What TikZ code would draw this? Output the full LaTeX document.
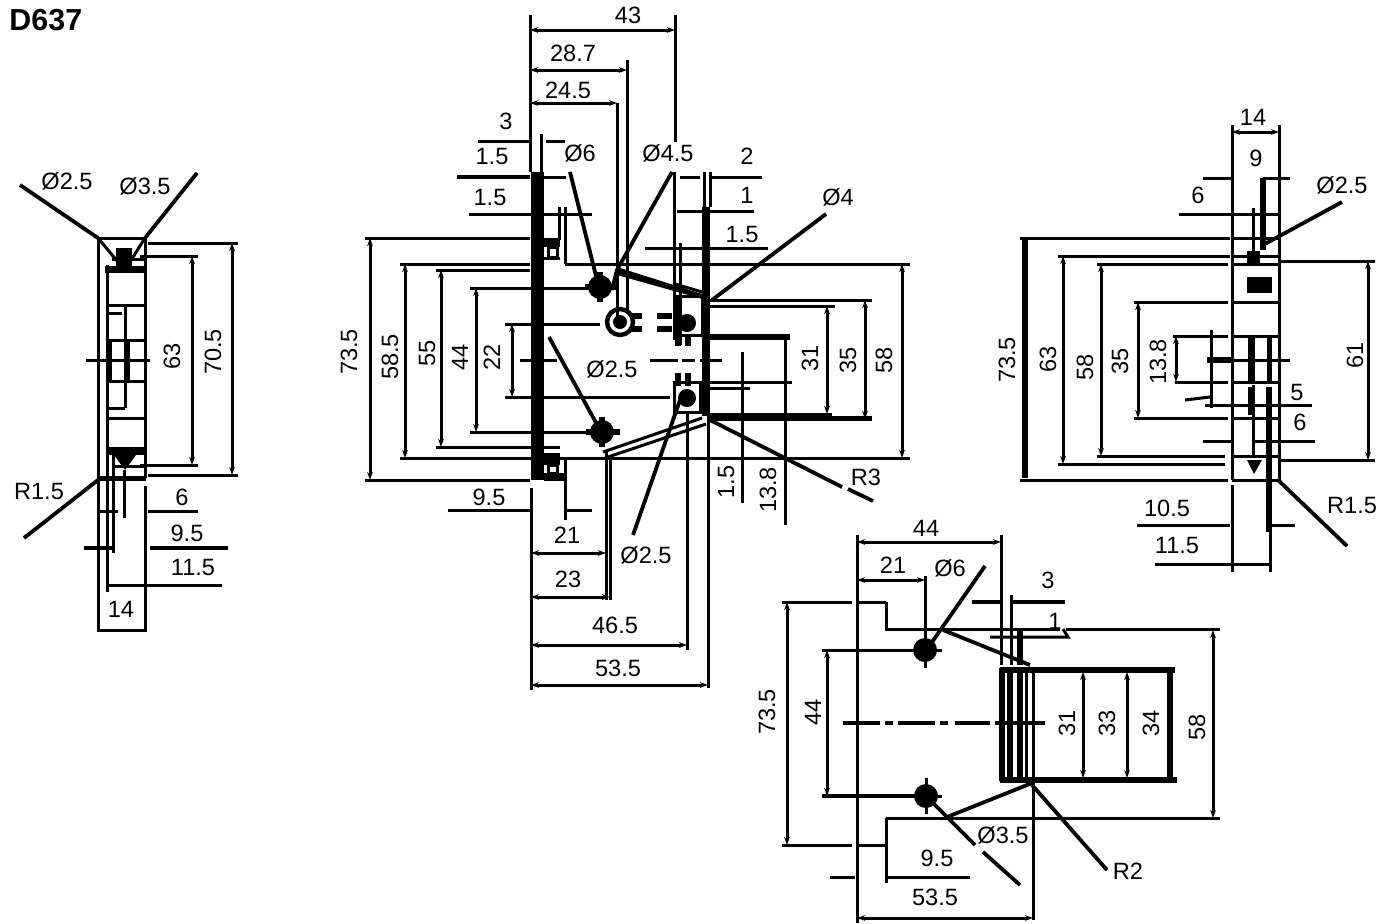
\documentclass[tikz,border=0pt]{standalone}
\usepackage{fontspec}
\setmainfont{Liberation Sans}
\usetikzlibrary{arrows.meta}
\tikzset{
    dim-text/.style={font=\fontsize{11.8}{13}\selectfont, inner sep=0pt},
    dim-rot/.style={dim-text, rotate=90},
    part-line/.style={line width=1.5pt},
    dim-line/.style={line width=1.5pt, {Stealth[length=4pt,width=2.8pt]}-{Stealth[length=4pt,width=2.8pt]}},
    heavy-line/.style={line width=2.8pt},
    leader-line/.style={line width=1.9pt},
    bar-fill/.style={fill=black, draw=none},
}

\begin{document}
\begin{tikzpicture}[x=0.5pt, y=-0.5pt, part-line]
        \useasboundingbox (0,0) rectangle (1380,923);

        % TITLE
        \node[font=\bfseries\fontsize{15.2}{17}\selectfont, anchor=west, inner sep=0pt] (TITLE) at (8,20) {D637};

        % LEFT VIEW, BODY
        \draw (98,238) -- (98,632);
        \draw (145,238) -- (145,478);
        \draw (145,486) -- (145,632);
        \draw (107,265) -- (107,592);
        \draw (98,238) -- (145,238);
        \draw (125,305) -- (125,408);
        \draw (107,305) -- (145,305);
        \draw (107,313) -- (122,313);
        \draw (107,340) -- (145,340);
        \draw (107,381) -- (145,381);
        \draw (107,408) -- (125,408);
        \draw (107,418) -- (145,418);
        \draw (86,360) -- (150,360);
        \draw (113,455) -- (113,553);
        \draw (124,470) -- (124,518);
        \draw (98,238) -- (118,262);
        \draw (145,238) -- (130,262);
        \draw[bar-fill] (105,266) rectangle (145,273);
        \draw[bar-fill] (116,248) rectangle (132,266);
        \draw (112,259) -- (145,259);
        \draw[bar-fill] (107,447) rectangle (145,455);
        \draw[bar-fill] (114,455) -- (136,455) -- (125,470) -- cycle;
        \draw (114,466) -- (145,466);
        \draw[bar-fill] (98,476) rectangle (146,481);
        \draw[bar-fill] (109,340) rectangle (112,381);
        \draw[bar-fill] (124,340) rectangle (130,381);

        % LEFT VIEW, DIMENSIONS
        \draw (148,243) -- (238,243);
        \draw (148,475) -- (238,475);
        \draw (140,256) -- (198,256);
        \draw (140,465) -- (198,465);
        \draw[dim-line] (192,256) -- (192,465);
        \draw[dim-line] (232,243) -- (232,475);
        \draw (98,511) -- (118,511);
        \draw (148,511) -- (198,511);
        \draw[line width=2pt] (84,548) -- (113,548);
        \draw[line width=1.8pt] (150,548) -- (228,548);
        \draw (107,585) -- (222,585);
        \draw (98,630) -- (145,630);
        \draw[leader-line] (20,185) -- (98,238);
        \draw[leader-line] (197,173) -- (145,238);
        \draw[leader-line] (98,480) -- (24,538);
        \node[dim-text] (LEFTD1) at (67,181)  {Ø2.5};
        \node[dim-text] (LEFTD2) at (145,186) {Ø3.5};
        \node[dim-rot]  (LEFT63) at (172,356) {63};
        \node[dim-rot]  (LEFT70) at (213,352) {70.5};
        \node[dim-text] (LEFTR)  at (39,491)  {R1.5};
        \node[dim-text] (LEFT6)  at (182,497) {6};
        \node[dim-text] (LEFT9)  at (187,533) {9.5};
        \node[dim-text] (LEFT11) at (193,567) {11.5};
        \node[dim-text] (LEFT14) at (121,609) {14};

        % FRONT VIEW, BODY
        \draw[bar-fill] (531,172) rectangle (544,480);
        \draw[bar-fill] (544,238) rectangle (560,247);
        \draw[bar-fill] (544,257) rectangle (560,260);
        \draw[bar-fill] (544,473) rectangle (565,481);
        \draw[bar-fill] (544,453) rectangle (560,465);
        \draw (559,207) -- (559,240);
        \draw (565,207) -- (565,264);
        \draw (548,247) rectangle (557,257);
        \draw (548,465) rectangle (557,473);
        \draw (565,458) -- (565,520);
        \draw[bar-fill] (702,207) rectangle (710,416);
        \draw (704,172) -- (704,207);
        \draw (710,172) -- (710,207);
        \draw (708,416) -- (708,688);
        \draw[bar-fill] (617,267) -- (702,294) -- (706,300) -- (617,275) -- cycle;
        \draw (603,452) -- (702,418);
        \draw (605,458) -- (706,424);
        \draw (675,284) -- (702,292);
        \draw[bar-fill] (710,413) rectangle (832,421);
        \draw[bar-fill] (832,416) rectangle (872,421);
        \draw[bar-fill] (705,334) rectangle (790,340);
        \draw[bar-fill] (600,287) circle (12);
        \draw[bar-fill] (602,432) circle (12);
        \draw[heavy-line] (600,272) -- (600,302);
        \draw[heavy-line] (585,287) -- (616,287);
        \draw[heavy-line] (602,417) -- (602,447);
        \draw[heavy-line] (586,432) -- (620,432);
        \draw[line width=2.2pt] (620,322) circle (13);
        \draw[bar-fill] (620,322) circle (7);
        \draw[heavy-line] (630,316) -- (642,316);
        \draw[heavy-line] (630,329) -- (642,329);
        \draw[heavy-line] (657,316) -- (672,316);
        \draw[heavy-line] (657,329) -- (672,329);
        \draw[bar-fill] (687,323) circle (9);
        \draw[bar-fill] (687,398) circle (9);
        \draw (674,382) rectangle (700,412);
        \draw (677,296) rectangle (702,335);
        \draw[heavy-line] (678,335) -- (678,346);
        \draw[heavy-line] (688,335) -- (688,346);
        \draw[heavy-line] (678,373) -- (678,386);
        \draw[heavy-line] (688,373) -- (688,386);

        % FRONT VIEW, CENTER LINE
        \draw (520,360) -- (557,360);
        \draw (650,360) -- (678,360);
        \draw (682,360) -- (695,360);
        \draw (700,360) -- (722,360);

        % FRONT VIEW, TOP DIMENSIONS
        \draw (530,15) -- (530,172);
        \draw (675,15) -- (675,142);
        \draw[dim-line] (530,30) -- (675,30);
        \draw[dim-line] (530,70) -- (627,70);
        \draw (627,60) -- (627,310);
        \draw[dim-line] (530,103) -- (617,103);
        \draw (617,103) -- (617,320);
        \draw (478,141) -- (530,141);
        \draw (546,141) -- (565,141);
        \draw (541,134) -- (541,172);
        \draw[line width=2.4pt] (457,177) -- (530,177);
        \draw (544,177) -- (566,177);
        \draw (469,214) -- (531,214);
        \draw (544,214) -- (592,214);
        \draw (674,172) -- (674,340);
        \draw (680,243) -- (680,345);
        \draw (680,177) -- (700,177);
        \draw (710,177) -- (762,177);
        \draw (677,211) -- (702,211);
        \draw (710,211) -- (754,211);
        \draw (645,248) -- (702,248);
        \draw (710,248) -- (768,248);
        \node[dim-text] (FRONT43)   at (628,15)  {43};
        \node[dim-text] (FRONT28)   at (573,53)  {28.7};
        \node[dim-text] (FRONT24)   at (568,90)  {24.5};
        \node[dim-text] (FRONT3)    at (506,121) {3};
        \node[dim-text] (FRONT15A)  at (492,156) {1.5};
        \node[dim-text] (FRONT15B)  at (490,197) {1.5};
        \node[dim-text] (FRONTD6)   at (580,153) {Ø6};
        \node[dim-text] (FRONTD45)  at (668,153) {Ø4.5};
        \node[dim-text] (FRONT2)    at (747,156) {2};
        \node[dim-text] (FRONT1)    at (747,195) {1};
        \node[dim-text] (FRONT15C)  at (742,234) {1.5};
        \node[dim-text] (FRONTD4)   at (838,197) {Ø4};

        % FRONT VIEW, LEFT DIMENSIONS
        \draw (365,238) -- (530,238);
        \draw (400,264) -- (530,264);
        \draw (436,270) -- (530,270);
        \draw (470,288) -- (585,288);
        \draw (505,324) -- (600,324);
        \draw (505,397) -- (670,397);
        \draw (470,432) -- (590,432);
        \draw (436,447) -- (560,447);
        \draw (400,458) -- (530,458);
        \draw (365,480) -- (530,480);
        \draw[dim-line] (370,238) -- (370,480);
        \draw[dim-line] (405,264) -- (405,458);
        \draw[dim-line] (441,270) -- (441,447);
        \draw[dim-line] (476,288) -- (476,432);
        \draw[dim-line] (512,324) -- (512,397);
        \node[dim-rot]  (FRONT73)  at (349,352) {73.5};
        \node[dim-rot]  (FRONT58L) at (390,357) {58.5};
        \node[dim-rot]  (FRONT55)  at (427,353) {55};
        \node[dim-rot]  (FRONT44)  at (460,357) {44};
        \node[dim-rot]  (FRONT22)  at (492,357) {22};
        \node[dim-text] (FRONTD25) at (612,369) {Ø2.5};

        % FRONT VIEW, RIGHT DIMENSIONS
        \draw (565,264) -- (910,264);
        \draw (530,458) -- (910,458);
        \draw (710,300) -- (872,300);
        \draw (710,306) -- (835,306);
        \draw (705,382) -- (792,382);
        \draw (705,388) -- (750,388);
        \draw[dim-line] (902,264) -- (902,458);
        \draw[dim-line] (865,300) -- (865,419);
        \draw[dim-line] (827,306) -- (827,414);
        \draw (785,337) -- (785,525);
        \draw (742,352) -- (742,503);
        \node[dim-rot]  (FRONT31)  at (810,358) {31};
        \node[dim-rot]  (FRONT35)  at (848,360) {35};
        \node[dim-rot]  (FRONT58R) at (884,360) {58};
        \node[dim-rot]  (FRONT15D) at (726,482) {1.5};
        \node[dim-rot]  (FRONT138) at (768,490) {13.8};
        \node[dim-text] (FRONTR3)  at (866,477) {R3};

        % FRONT VIEW, BOTTOM DIMENSIONS
        \draw (531,488) -- (531,690);
        \draw (687,412) -- (687,650);
        \draw (606,452) -- (606,600);
        \draw (610,458) -- (610,600);
        \draw (448,510) -- (531,510);
        \draw (565,510) -- (592,510);
        \draw[dim-line] (531,553) -- (606,553);
        \draw[dim-line] (531,597) -- (610,597);
        \draw[dim-line] (531,645) -- (687,645);
        \draw[dim-line] (531,685) -- (708,685);
        \node[dim-text] (FRONT9)  at (489,497) {9.5};
        \node[dim-text] (FRONT21) at (567,535) {21};
        \node[dim-text] (FRONT23) at (568,579) {23};
        \node[dim-text] (FRONT46) at (615,625) {46.5};
        \node[dim-text] (FRONT53) at (618,668) {53.5};
        \node[dim-text] (FRONTDB) at (646,555) {Ø2.5};

        % FRONT VIEW, LEADERS
        \draw[leader-line] (570,172) -- (597,280);
        \draw[leader-line] (672,172) -- (617,270) -- (612,290);
        \draw[leader-line] (826,214) -- (712,300);
        \draw[leader-line] (549,337) -- (600,430);
        \draw[leader-line] (633,535) -- (680,400);
        \draw[leader-line] (710,420) -- (842,487);
        \draw[leader-line] (848,489) -- (873,501);

        % RIGHT VIEW, BODY
        \draw (1232,125) -- (1232,480);
        \draw (1232,485) -- (1232,572);
        \draw (1279,125) -- (1279,480);
        \draw (1232,214) -- (1279,214);
        \draw (1232,238) -- (1279,238);
        \draw (1232,256) -- (1279,256);
        \draw (1232,264) -- (1279,264);
        \draw (1232,302) -- (1279,302);
        \draw (1232,336) -- (1279,336);
        \draw (1232,382) -- (1279,382);
        \draw (1232,418) -- (1279,418);
        \draw (1232,456) -- (1279,456);
        \draw (1232,480) -- (1279,480);
        \draw (1253,208) -- (1253,256);
        \draw[heavy-line] (1263,178) -- (1263,250);
        \draw[bar-fill] (1247,277) rectangle (1272,293);
        \draw[bar-fill] (1248,336) rectangle (1255,382);
        \draw[bar-fill] (1267,336) rectangle (1272,382);
        \draw[bar-fill] (1248,387) rectangle (1255,415);
        \draw[bar-fill] (1266,387) rectangle (1272,480);
        \draw[bar-fill] (1266,480) rectangle (1271,532);
        \draw[bar-fill] (1247,251) rectangle (1260,263);
        \draw[bar-fill] (1247,460) -- (1262,460) -- (1254,474) -- cycle;
        \draw (1253,385) -- (1253,455);
        \draw[line width=2.8pt] (1207,360) -- (1232,360);
        \draw (1232,360) -- (1290,360);
        \draw (1211,330) -- (1211,408);
        \draw (1185,400) -- (1210,397);
        \draw (1270,480) -- (1270,572);

        % RIGHT VIEW, DIMENSIONS
        \draw (1020,238) -- (1230,238);
        \draw (1058,256) -- (1230,256);
        \draw (1097,264) -- (1228,264);
        \draw (1134,302) -- (1228,302);
        \draw (1173,336) -- (1228,336);
        \draw (1175,382) -- (1228,382);
        \draw (1134,418) -- (1228,418);
        \draw (1097,456) -- (1225,456);
        \draw (1058,464) -- (1225,464);
        \draw (1020,480) -- (1228,480);
        \draw (1279,261) -- (1375,261);
        \draw (1279,460) -- (1375,460);
        \draw[heavy-line] (1025,240) -- (1025,478);
        \draw[dim-line] (1063,256) -- (1063,464);
        \draw[dim-line] (1101,264) -- (1101,456);
        \draw[dim-line] (1138,302) -- (1138,418);
        \draw[dim-line] (1176,336) -- (1176,382);
        \draw[dim-line] (1368,261) -- (1368,460);
        \draw[dim-line] (1232,132) -- (1279,132);
        \draw (1203,178) -- (1232,178);
        \draw (1263,178) -- (1290,178);
        \draw (1179,214) -- (1232,214);
        \draw (1205,405) -- (1312,405);
        \draw (1203,441) -- (1232,441);
        \draw (1255,441) -- (1315,441);
        \draw (1137,525) -- (1230,525);
        \draw (1272,525) -- (1295,525);
        \draw (1155,564) -- (1270,564);
        \draw[leader-line] (1342,202) -- (1263,245);
        \draw[leader-line] (1278,480) -- (1347,546);
        \node[dim-text] (RIGHT14)  at (1253,117) {14};
        \node[dim-text] (RIGHT9)   at (1256,158) {9};
        \node[dim-text] (RIGHT6A)  at (1198,195) {6};
        \node[dim-text] (RIGHTD25) at (1342,185) {Ø2.5};
        \node[dim-rot]  (RIGHT73)  at (1007,360) {73.5};
        \node[dim-rot]  (RIGHT63)  at (1048,359) {63};
        \node[dim-rot]  (RIGHT58)  at (1085,367) {58};
        \node[dim-rot]  (RIGHT35)  at (1120,361) {35};
        \node[dim-rot]  (RIGHT138) at (1158,362) {13.8};
        \node[dim-rot]  (RIGHT61)  at (1355,355) {61};
        \node[dim-text] (RIGHT5)   at (1297,392) {5};
        \node[dim-text] (RIGHT6B)  at (1300,422) {6};
        \node[dim-text] (RIGHTR)   at (1352,505) {R1.5};
        \node[dim-text] (RIGHT105) at (1167,508) {10.5};
        \node[dim-text] (RIGHT115) at (1177,545) {11.5};

        % BOTTOM VIEW, BODY
        \draw (857,535) -- (857,923);
        \draw (1001,535) -- (1001,665);
        \draw (1011,595) -- (1011,665);
        \draw[heavy-line] (1020,630) -- (1020,665);
        \draw[heavy-line] (1002,668) -- (1002,781);
        \draw[heavy-line] (1010,668) -- (1010,781);
        \draw[heavy-line] (1020,668) -- (1020,781);
        \draw (1026,668) -- (1026,781);
        \draw (1033,668) -- (1033,920);
        \draw[heavy-line] (1000,670) -- (1175,670);
        \draw[heavy-line] (1000,780) -- (1177,780);
        \draw (886,602) -- (886,629) -- (1060,629);
        \draw (1066,629) -- (1220,629);
        \draw (886,818) -- (1220,818);
        \draw (886,818) -- (886,883);
        \draw[leader-line] (943,630) -- (1030,665);
        \draw[leader-line] (1032,783) -- (947,817);
        \draw[bar-fill] (925,650) circle (12);
        \draw[bar-fill] (926,796) circle (12);
        \draw (925,632) -- (925,668);
        \draw (907,650) -- (942,650);
        \draw (926,778) -- (926,814);
        \draw (910,796) -- (942,796);

        % BOTTOM VIEW, CENTER LINE
        \draw[line width=1.8pt] (843,723) -- (880,723);
        \draw[line width=1.8pt] (885,723) -- (893,723);
        \draw[line width=1.8pt] (898,723) -- (935,723);
        \draw[line width=1.8pt] (940,723) -- (948,723);
        \draw[line width=1.8pt] (955,723) -- (990,723);
        \draw[line width=1.8pt] (995,723) -- (1045,723);

        % BOTTOM VIEW, DIMENSIONS
        \draw[dim-line] (857,542) -- (1001,542);
        \draw[dim-line] (857,580) -- (925,580);
        \draw (925,576) -- (925,632);
        \draw[line width=2.4pt] (972,602) -- (1000,602);
        \draw[line width=2.4pt] (1012,602) -- (1065,602);
        \draw (782,602) -- (852,602);
        \draw (857,602) -- (886,602);
        \draw (782,845) -- (852,845);
        \draw (857,845) -- (886,845);
        \draw (990,637) -- (1068,637) -- (1063,629);
        \draw (822,650) -- (915,650);
        \draw[line width=1.9pt] (822,796) -- (915,796);
        \draw[dim-line] (787,602) -- (787,845);
        \draw[dim-line] (827,650) -- (827,796);
        \draw[dim-line] (1213,630) -- (1213,818);
        \draw[dim-line] (1083,672) -- (1083,778);
        \draw[dim-line] (1127,672) -- (1127,778);
        \draw[heavy-line] (1170,672) -- (1170,778);
        \draw (830,877) -- (855,877);
        \draw (888,877) -- (970,877);
        \draw[dim-line] (857,918) -- (1033,918);
        \draw[leader-line] (985,566) -- (930,645);
        \draw[leader-line] (930,800) -- (975,845);
        \draw[leader-line] (983,852) -- (1020,885);
        \draw[leader-line] (1032,785) -- (1107,870);
        \node[dim-text] (BOT44A) at (926,528)  {44};
        \node[dim-text] (BOT21)  at (893,565)  {21};
        \node[dim-text] (BOTD6)  at (950,568)  {Ø6};
        \node[dim-text] (BOT3)   at (1048,580) {3};
        \node[dim-text] (BOT1)   at (1055,621) {1};
        \node[dim-rot]  (BOT73)  at (767,712)  {73.5};
        \node[dim-rot]  (BOT44B) at (813,712)  {44};
        \node[dim-rot]  (BOT31)  at (1067,723) {31};
        \node[dim-rot]  (BOT33)  at (1107,723) {33};
        \node[dim-rot]  (BOT34)  at (1151,723) {34};
        \node[dim-rot]  (BOT58)  at (1197,727) {58};
        \node[dim-text] (BOTD35) at (1003,835) {Ø3.5};
        \node[dim-text] (BOTR2)  at (1128,871) {R2};
        \node[dim-text] (BOT9)   at (937,858)  {9.5};
        \node[dim-text] (BOT53)  at (935,897)  {53.5};

    \end{tikzpicture}
\end{document}
